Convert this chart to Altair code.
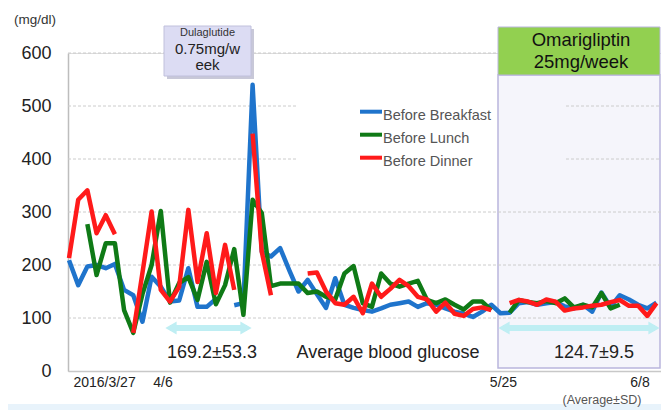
import altair as alt
import pandas as pd

FONT = "Liberation Sans"

# ---------------- data ----------------
idx = list(range(65))
before_breakfast = [209, 162, 197, 200, 194, 202, 153, 143, 93, 178,
                    159, 131, 133, 194, 121, 121, 136, None, 124, 128,
                    540, 225, 216, 232, 190, 150, 172, 145, 119, 175,
                    125, 119, 115, 112, 118, 125, 128, 131, 121, 128,
                    125, 118, 112, 108, 102, 112, 125, 109, 110, 128,
                    130, 125, 128, 130, 122, 118, 125, 112, 148, 121,
                    143, 135, 125, 118, 129]
before_lunch = [None, None, 277, 181, 241, 241, 115, 72, 145, 200,
                302, 129, 166, 177, 134, 206, 126, 162, 230, 106,
                323, 298, 160, 165, 165, 165, 147, 150, 140, 135,
                184, 198, 128, 121, 184, 165, 159, 165, 170, 134,
                128, 135, 125, 116, 131, 131, 115, None, 110, 134,
                130, 128, 132, 128, 137, 120, 125, 120, 147, 118,
                125, None, None, None, None]
before_dinner = [213, 323, 341, 260, 294, 258, None, 72, 185, 301,
                 153, 131, 159, 304, 168, 260, 147, 238, 153, None,
                 448, 225, 143, None, None, None, 184, 186, 150, 128,
                 125, 140, 109, 165, 140, 155, 172, 160, 140, 135,
                 112, 129, 108, 104, 117, 120, 115, None, 128, 134,
                 131, 125, 135, 131, 114, 118, 120, 123, 125, 130,
                 134, 123, 123, 104, 128]

series_names = ["Before Breakfast", "Before Lunch", "Before Dinner"]
series_colors = ["#1f74cc", "#0f7a16", "#ff1a1a"]

xlab_pos = [3.87, 10.24, 47.33, 62.2]
xlab_text = ["2016/3/27", "4/6", "5/25", "6/8"]

yticks = [0, 100, 200, 300, 400, 500, 600]

# grid segments (value, from index, to index)
grid_v = [100, 200, 300, 400, 400, 500, 500, 600]
grid_x1 = [-0.11, -0.11, -0.11, -0.11, 54.14, -0.11, 54.14, -0.11]
grid_x2 = [64.49, 64.49, 64.49, 24.84, 64.49, 24.84, 64.49, 46.73]

# ---------------- build tables ----------------
rows = []
for name, vals in zip(series_names, [before_breakfast, before_lunch, before_dinner]):
    seg = 0
    for i, v in zip(idx, vals):
        if v is None:
            seg += 1
            continue
        rows.append({"i": i, "v": v, "series": name, "seg": f"{name}-{seg}"})
df = pd.DataFrame(rows)
grid_df = pd.DataFrame({"v": grid_v, "x1": grid_x1, "x2": grid_x2})
xlab_df = pd.DataFrame({"i": xlab_pos, "t": xlab_text})
one = pd.DataFrame({"a": [0]})

W, H = 593, 318
xs = alt.Scale(domain=[-0.11, 64.49], nice=False, zero=False)
ys = alt.Scale(domain=[0, 600], nice=False)
xaxis = alt.Axis(labels=False, ticks=False, tickSize=0, grid=False, title=None,
                 domainColor="#c8c8c8", domainWidth=1.5)
yaxis = alt.Axis(values=yticks, ticks=False, tickSize=0, grid=False, title=None,
                 labelFontSize=18, labelPadding=17, labelColor="#222222",
                 labelFont=FONT, domainColor="#bdbdbd", domainWidth=1.5)
X = alt.X("i:Q", scale=xs, axis=xaxis)
Y = alt.Y("v:Q", scale=ys, axis=yaxis)


def vrect(x1, x2, y1, y2, fill, stroke=None, sw=0, opacity=1):
    kw = dict(fill=fill, opacity=opacity)
    if stroke:
        kw.update(stroke=stroke, strokeWidth=sw)
    return alt.Chart(one).mark_rect(**kw).encode(
        x=alt.value(x1), x2=alt.value(x2), y=alt.value(y1), y2=alt.value(y2))


def txt(s, x, y, size, color="#222222", align="center"):
    return alt.Chart(one).mark_text(text=s, fontSize=size, color=color, align=align,
                                    baseline="middle", font=FONT).encode(
        x=alt.value(x), y=alt.value(y))


def arrow(xa, xb, y, color="#bfeef3"):
    shaft = alt.Chart(one).mark_rule(color=color, strokeWidth=6).encode(
        x=alt.value(xa + 5), x2=alt.value(xb - 5), y=alt.value(y))
    left = alt.Chart(one).mark_point(shape="triangle-left", filled=True, color=color,
                                     size=170, opacity=1).encode(
        x=alt.value(xa + 6), y=alt.value(y))
    right = alt.Chart(one).mark_point(shape="triangle-right", filled=True, color=color,
                                      size=170, opacity=1).encode(
        x=alt.value(xb - 6), y=alt.value(y))
    return [shaft, left, right]


layers = []
# bottom band of the slide
layers.append(vrect(-60, W, 351, 360, "#e8f3fb"))
# shaded Omarigliptin period
layers.append(vrect(430, 592, 22, 315, "#f5f5fb", "#b9b5dd", 1.5))
# grid
layers.append(alt.Chart(grid_df).mark_rule(color="#cccccc", strokeWidth=1,
                                           strokeDash=[3, 2]).encode(
    x=X, x2="x2:Q", y=Y).transform_calculate(i="datum.x1"))
# data lines
layers.append(alt.Chart(df).mark_line(strokeWidth=4.5, strokeJoin="round").encode(
    x=X, y=Y,
    color=alt.Color("series:N", scale=alt.Scale(domain=series_names, range=series_colors),
                    legend=None),
    detail="seg:N",
    order="i:Q"))
# x labels
layers.append(alt.Chart(xlab_df).mark_text(fontSize=14, color="#222222", font=FONT,
                                           baseline="middle").encode(
    x=X, y=alt.value(330), text="t:N"))

# annotation boxes
layers.append(vrect(99, 186, -24, 26, "#c8c8d8"))
layers.append(vrect(96, 183, -27, 23, "#dcdcf3", "#c0c0dc", 1))
layers.append(txt("Dulaglutide", 139.5, -20, 11, "#333333"))
layers.append(txt("0.75mg/w", 139.5, -4, 15))
layers.append(txt("eek", 139.5, 12, 15))

layers.append(vrect(430, 592, -26, 22, "#92d050", "#b9b5dd", 1))
layers.append(txt("Omarigliptin", 513, -13, 18.5, "#111111"))
layers.append(txt("25mg/week", 513, 9, 18.5, "#111111"))

# legend
for k, (name, col) in enumerate(zip(series_names, series_colors)):
    ly = 58.7 + k * 23
    layers.append(alt.Chart(one).mark_rule(color=col, strokeWidth=4).encode(
        x=alt.value(292), x2=alt.value(314), y=alt.value(ly)))
    layers.append(txt(name, 315, ly + 4.5, 14.5, "#555555", align="left"))

# arrows and averages
layers += arrow(97, 184, 275)
layers += arrow(430, 592, 275)
layers.append(txt("169.2±53.3", 144, 300, 18))
layers.append(txt("Average blood glucose", 320, 300, 18))
layers.append(txt("124.7±9.5", 526, 300, 18))
layers.append(txt("(Average±SD)", 534, 347, 12.5, "#555555"))
layers.append(txt("(mg/dl)", -33, -33, 13.5, "#333333"))

chart = alt.layer(*layers).properties(
    width=W, height=H,
    padding={"left": 60, "top": 45, "right": 0, "bottom": 39},
    autosize=alt.AutoSizeParams(type="none"),
).configure_view(stroke=None).configure(font=FONT)

chart.save("out.html", embed_options={"renderer": "svg", "actions": False})
